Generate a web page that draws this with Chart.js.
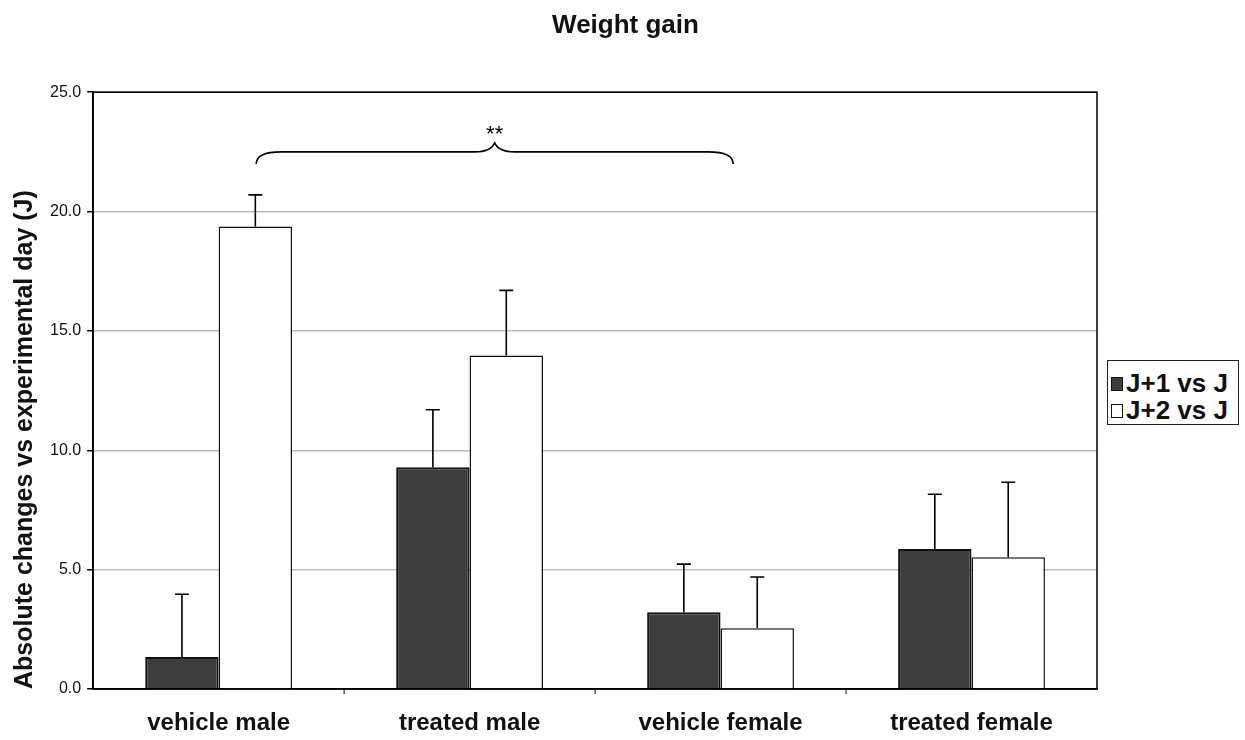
<!DOCTYPE html>
<html>
<head>
<meta charset="utf-8">
<script src="https://cdn.jsdelivr.net/npm/chart.js@4.4.1/dist/chart.umd.min.js"></script>
<style>
  html, body { margin: 0; padding: 0; background: #fff; }
  #wrap { width: 1245px; height: 740px; position: relative; }
  #leg-weight {
    position: absolute; left: 1107px; top: 360px; width: 127px;
    border: 1px solid #222; background: #fff; padding: 9px 0 0 3px; box-sizing: content-box;
    font: bold 26px "Liberation Sans", Arial, sans-serif; color: #111;
  }
  .legend-item { display: flex; align-items: center; height: 27px; white-space: nowrap; }
  .lsq { display: inline-block; width: 10px; height: 12px; border: 1.5px solid #111; margin-right: 3px; }
</style>
</head>
<body>
<div id="wrap"><canvas id="chart-weight"></canvas><div id="leg-weight"></div></div>
<script>
// ── Datos ──
const groups = ['vehicle male', 'treated male', 'vehicle female', 'treated female'];
const seriesNames = ['J+1 vs J', 'J+2 vs J'];
const gainJ1 = [1.34, 9.29, 3.22, 5.86];
const gainJ2 = [19.37, 13.97, 2.55, 5.52];
const errJ1 = [2.63, 2.41, 2.01, 2.30];
const errJ2 = [1.33, 2.73, 2.14, 3.14];
const yTicks = [0, 5, 10, 15, 20, 25];
// llave de significancia: desde/hasta en unidades de categoría, altura en unidades y
const brace = { from: 0.15, to: 2.05, y: 22.5, label: '**' };

const fontFamily = '"Liberation Sans", Arial, Helvetica, sans-serif';
const fills = ['#3d3d3d', '#ffffff'];

// ── Barras de error (solo hacia arriba, con tope) ──
const errorBars = {
  id: 'errorBars',
  afterDatasetsDraw(chart) {
    const { ctx, scales: { y } } = chart;
    ctx.save();
    ctx.strokeStyle = '#000';
    ctx.lineWidth = 1.6;
    chart.data.datasets.forEach((ds, i) => {
      const meta = chart.getDatasetMeta(i);
      meta.data.forEach((bar, j) => {
        const top = y.getPixelForValue(ds.data[j] + ds.err[j]);
        ctx.beginPath();
        ctx.moveTo(bar.x, bar.y);
        ctx.lineTo(bar.x, top);
        ctx.moveTo(bar.x - 7, top);
        ctx.lineTo(bar.x + 7, top);
        ctx.stroke();
      });
    });
    ctx.restore();
  },
};

// ── Marco del área + llave ** ──
const decorations = {
  id: 'decorations',
  afterDraw(chart) {
    const { ctx, chartArea: a, scales: { y } } = chart;
    ctx.save();
    ctx.strokeStyle = '#000';
    ctx.lineWidth = 1.5;
    ctx.strokeRect(a.left, a.top, a.right - a.left, a.bottom - a.top);

    // ticks del eje x entre categorías
    const cw = (a.right - a.left) / groups.length;
    ctx.lineWidth = 1;
    for (let i = 1; i < groups.length; i++) {
      const px = a.left + cw * i;
      ctx.beginPath();
      ctx.moveTo(px, a.bottom);
      ctx.lineTo(px, a.bottom + 5);
      ctx.stroke();
    }

    // llave
    const x0 = a.left + (brace.from + 0.5) * cw;
    const x1 = a.left + (brace.to + 0.5) * cw;
    const xm = (x0 + x1) / 2;
    const yb = y.getPixelForValue(brace.y);
    ctx.lineWidth = 1.6;
    ctx.beginPath();
    ctx.moveTo(x0, yb + 12);
    ctx.quadraticCurveTo(x0, yb, x0 + 25, yb);
    ctx.lineTo(xm - 20, yb);
    ctx.quadraticCurveTo(xm - 4, yb, xm, yb - 9);
    ctx.quadraticCurveTo(xm + 4, yb, xm + 20, yb);
    ctx.lineTo(x1 - 25, yb);
    ctx.quadraticCurveTo(x1, yb, x1, yb + 12);
    ctx.stroke();
    ctx.fillStyle = '#000';
    ctx.font = '22px ' + fontFamily;
    ctx.textAlign = 'center';
    ctx.textBaseline = 'bottom';
    ctx.fillText(brace.label, xm, yb - 6);
    ctx.restore();
  },
};

// leyenda HTML
const legEl = document.getElementById('leg-weight');
seriesNames.forEach((name, i) =>
  legEl.insertAdjacentHTML(
    'beforeend',
    `<div class="legend-item"><span class="lsq" style="background:${fills[i]}"></span>${name}</div>`
  )
);

new Chart(document.getElementById('chart-weight'), {
  type: 'bar',
  data: {
    labels: groups,
    datasets: [
      {
        label: seriesNames[0],
        data: gainJ1,
        err: errJ1,
        backgroundColor: fills[0],
        borderColor: '#111',
        borderWidth: 2,
      },
      {
        label: seriesNames[1],
        data: gainJ2,
        err: errJ2,
        backgroundColor: fills[1],
        borderColor: '#111',
        borderWidth: 1.5,
      },
    ],
  },
  options: {
    responsive: true,
    maintainAspectRatio: false,
    animation: false,
    datasets: { bar: { categoryPercentage: 0.585, barPercentage: 1 } },
    layout: { padding: { top: 7, right: 0, left: 6, bottom: 0 } },
    plugins: {
      title: {
        display: true,
        text: 'Weight gain',
        color: '#111',
        font: { family: fontFamily, size: 26, weight: 'bold' },
        padding: { top: 3, bottom: 51 },
      },
      legend: { display: false },
      tooltip: { enabled: false },
    },
    scales: {
      x: {
        grid: { display: false, drawTicks: false },
        border: { color: '#000', width: 1.5 },
        ticks: { color: '#111', padding: 20, font: { family: fontFamily, size: 24, weight: 'bold' } },
        afterFit: s => { s.height = 51; },
      },
      y: {
        min: 0,
        max: 25,
        afterBuildTicks: axis => { axis.ticks = yTicks.map(v => ({ value: v })); },
        grid: { color: '#bdbdbd', lineWidth: 1.5, tickColor: '#000', tickLength: 6 },
        border: { color: '#000', width: 1.5 },
        ticks: {
          color: '#111',
          padding: 6,
          font: { family: fontFamily, size: 16 },
          callback: v => Number(v).toFixed(1),
        },
        title: {
          display: true,
          align: 'start',
          text: 'Absolute changes vs experimental day (J)',
          color: '#111',
          font: { family: fontFamily, size: 25, weight: 'bold' },
          padding: { bottom: 4 },
        },
      },
      // espacio reservado para la leyenda (eje vacío a la derecha)
      ySpace: {
        position: 'right',
        min: 0,
        max: 25,
        grid: { display: false, drawTicks: false },
        border: { display: false },
        ticks: { display: false },
        afterFit: s => { s.width = 148; },
      },
    },
  },
  plugins: [errorBars, decorations],
});
</script>
</body>
</html>
